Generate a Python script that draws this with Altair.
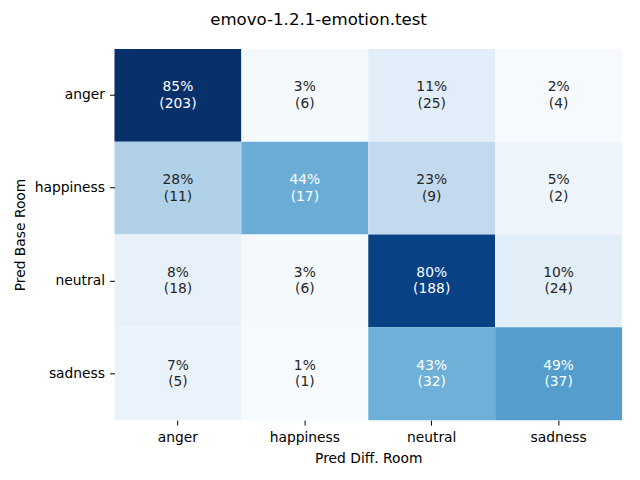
import altair as alt
import pandas as pd

labels = ["anger", "happiness", "neutral", "sadness"]
counts_anger = [203, 6, 25, 4]
counts_happiness = [11, 17, 9, 2]
counts_neutral = [18, 6, 188, 24]
counts_sadness = [5, 1, 32, 37]

blues = ["#f7fbff", "#deebf7", "#c6dbef", "#9ecae1", "#6baed6",
         "#4292c6", "#2171b5", "#08519c", "#08306b"]

rows = []
for true_lab, counts in zip(labels, [counts_anger, counts_happiness, counts_neutral, counts_sadness]):
    total = sum(counts)
    for pred_lab, c in zip(labels, counts):
        p = c / total
        rows.append({"base": true_lab, "diff": pred_lab, "count": c, "pct": p,
                     "label": f"{round(p * 100):.0f}%\n({c})"})
df = pd.DataFrame(rows)

vmin, vmax = df["pct"].min(), df["pct"].max()
domain = [vmin + i * (vmax - vmin) / 8 for i in range(9)]

FONT = "DejaVu Sans"
FS = 13.9

x_enc = alt.X("diff:N", sort=labels, scale=alt.Scale(paddingInner=0, paddingOuter=0),
              axis=alt.Axis(title="Pred Diff. Room", labelAngle=0, domain=False,
                            tickSize=5, tickColor="black", tickWidth=1,
                            labelPadding=5, titlePadding=8))
y_enc = alt.Y("base:N", sort=labels, scale=alt.Scale(paddingInner=0, paddingOuter=0),
              axis=alt.Axis(title="Pred Base Room", domain=False,
                            tickSize=5, tickColor="black", tickWidth=1,
                            labelPadding=5, titlePadding=7))

rect = alt.Chart(df).mark_rect().encode(
    x=x_enc, y=y_enc,
    color=alt.Color("pct:Q", scale=alt.Scale(domain=domain, range=blues, interpolate="rgb"),
                    legend=None),
)

text = alt.Chart(df).mark_text(font=FONT, fontSize=FS, lineBreak="\n", lineHeight=16.5,
                               baseline="middle", align="center", dy=-8).encode(
    x=alt.X("diff:N", sort=labels),
    y=alt.Y("base:N", sort=labels),
    text="label:N",
    color=alt.condition(alt.datum.pct > 0.35, alt.value("white"), alt.value("#262626")),
)

chart = (rect + text).properties(
    width=510, height=373,
    title=alt.TitleParams("emovo-1.2.1-emotion.test", font=FONT, fontSize=16.7,
                          fontWeight="normal", color="black", anchor="middle",
                          dx=-50, offset=3, baseline="bottom"),
    autosize=alt.AutoSizeParams(type="none"),
    padding={"left": 107, "top": 40, "right": 10, "bottom": 50},
).configure_view(stroke=None).configure_axis(
    labelFont=FONT, titleFont=FONT, labelFontSize=FS, titleFontSize=FS,
    labelColor="black", titleColor="black", titleFontWeight="normal",
)

chart.save("out.html", embed_options={"renderer": "svg", "actions": False})
